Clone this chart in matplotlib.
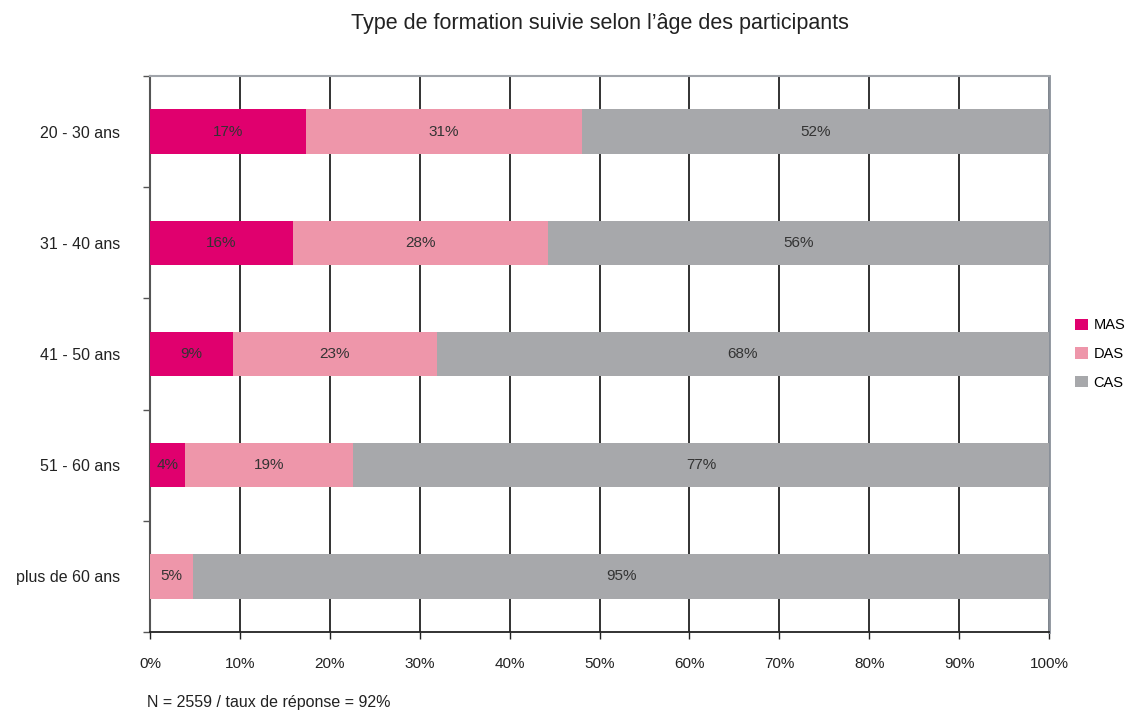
import matplotlib.pyplot as plt
import numpy as np

plt.rcParams['font.family'] = ['Liberation Sans', 'DejaVu Sans']

# data
categories = ['20 - 30 ans', '31 - 40 ans', '41 - 50 ans', '51 - 60 ans', 'plus de 60 ans']
mas = [17.3, 15.9, 9.2, 3.9, 0.0]
das = [30.7, 28.4, 22.7, 18.7, 4.8]
cas = [52.0, 55.7, 68.1, 77.4, 95.2]
series_names = ['MAS', 'DAS', 'CAS']
colors = ['#E0006E', '#EE96AA', '#A7A8AB']

fig = plt.figure(figsize=(11.26, 7.11), dpi=100)
ax = fig.add_axes([150 / 1126, 79 / 711, 899 / 1126, 556 / 711])

y = np.arange(len(categories))
left = np.zeros(len(categories))
for name, vals, col in zip(series_names, [mas, das, cas], colors):
    vals = np.array(vals)
    ax.barh(y, vals, left=left, height=0.4, color=col, label=name, zorder=3)
    for yi, l, v in zip(y, left, vals):
        if v > 0:
            ax.text(l + v / 2, yi, f'{round(v):.0f}%', ha='center', va='center',
                    fontsize=11, color='#333333', zorder=4)
    left += vals

ax.set_xlim(0, 100)
ax.set_ylim(len(categories) - 0.5, -0.5)

ax.set_xticks(np.arange(0, 101, 10))
ax.set_xticklabels([f'{v}%' for v in range(0, 101, 10)], fontsize=11, color='#222222')
ax.tick_params(axis='x', direction='out', length=5, width=1, pad=13, color='#222222')
ax.grid(axis='x', color='#222222', linewidth=1.3, zorder=0)

ax.set_yticks(y)
ax.set_yticklabels(categories, fontsize=11.5, color='#222222')
ax.set_yticks(np.arange(-0.5, len(categories)), minor=True)
ax.tick_params(axis='y', which='major', length=0, pad=21.5)
ax.tick_params(axis='y', which='minor', direction='out', length=5, width=1, color='#555555')

ax.spines['left'].set_color('#555555')
ax.spines['left'].set_linewidth(1.5)
ax.spines['bottom'].set_color('#222222')
ax.spines['bottom'].set_linewidth(1.3)
ax.spines['top'].set_color('#A0A4AA')
ax.spines['top'].set_linewidth(1.5)
ax.spines['right'].set_color('#8A9099')
ax.spines['right'].set_linewidth(2)

fig.text(600 / 1126, 1 - 23 / 711, 'Type de formation suivie selon l\u2019âge des participants',
         ha='center', va='center', fontsize=15.5, color='#222222')
fig.text(147 / 1126, 1 - 703 / 711, 'N = 2559 / taux de réponse = 92%',
         ha='left', va='center', fontsize=11.5, color='#222222')

leg = ax.legend(loc='center left', bbox_to_anchor=(1.018, 0.5), frameon=False,
                fontsize=10.5, handlelength=0.85, handleheight=0.85, handletextpad=0.4,
                labelspacing=1.0, borderpad=0.2)

fig.savefig('out.png', dpi=100)
